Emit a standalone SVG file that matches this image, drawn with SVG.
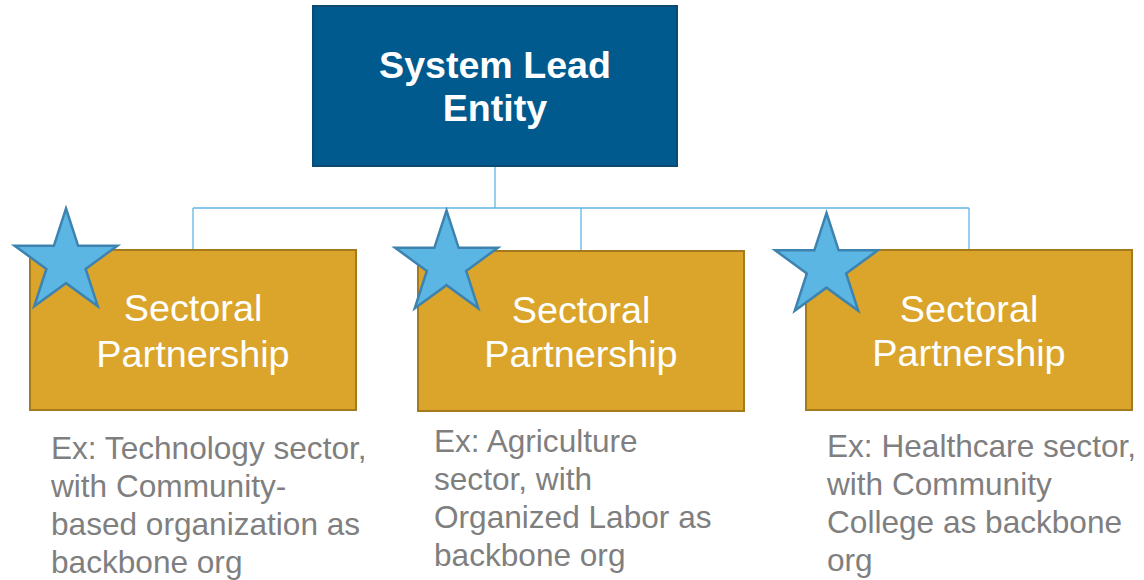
<svg xmlns="http://www.w3.org/2000/svg" width="1144" height="580" viewBox="0 0 1144 580">
<style>
.lead{fill:#005A8E;stroke:#0B4A74;stroke-width:2}
.lead-t{font-family:"Liberation Sans",Arial,sans-serif;font-weight:bold;font-size:37.6px;fill:#FFFFFF;text-anchor:middle}
.part{fill:#DAA52A;stroke:#A57A1C;stroke-width:2}
.part-t{font-family:"Liberation Sans",Arial,sans-serif;font-size:37.8px;fill:#FFFFFF;text-anchor:middle}
.desc{font-family:"Liberation Sans",Arial,sans-serif;font-size:31.6px;fill:#7F7F7F}
.conn{fill:none;stroke:#62B5E5;stroke-width:1.3}
.star{fill:#5CB6E4;stroke:#3E83AF;stroke-width:2.5;stroke-linejoin:miter}
</style>
<defs>
<path id="star" d="M0,-54 L12.13,-16.69 L51.36,-16.69 L19.62,6.37 L31.74,43.69 L0,20.63 L-31.74,43.69 L-19.62,6.37 L-51.36,-16.69 L-12.13,-16.69 Z"/>
</defs>
<g id="connectors">
<path class="conn" d="M495,166 V208 M193,208 H969 M193,208 V250 M581,208 V251 M969,208 V250"/>
</g>
<g id="lead">
<rect class="lead" x="313" y="6" width="364" height="160"/>
<text class="lead-t" x="495" y="78">System Lead</text>
<text class="lead-t" x="495" y="121">Entity</text>
</g>
<g id="partner1">
<rect class="part" x="30" y="250" width="326" height="160"/>
<text class="part-t" x="193" y="321">Sectoral</text>
<text class="part-t" x="193" y="367">Partnership</text>
<use href="#star" class="star" transform="translate(66,262.5)"/>
</g>
<g id="partner2">
<rect class="part" x="418" y="251" width="326" height="160"/>
<text class="part-t" x="581" y="323">Sectoral</text>
<text class="part-t" x="581" y="367">Partnership</text>
<use href="#star" class="star" transform="translate(446.5,264.5)"/>
</g>
<g id="partner3">
<rect class="part" x="806" y="250" width="326" height="160"/>
<text class="part-t" x="969" y="322">Sectoral</text>
<text class="part-t" x="969" y="366">Partnership</text>
<use href="#star" class="star" transform="translate(826.5,267)"/>
</g>
<g id="desc1">
<text class="desc" x="51"><tspan x="51" y="459">Ex: Technology sector,</tspan><tspan x="51" y="497">with Community-</tspan><tspan x="51" y="535">based organization as</tspan><tspan x="51" y="573">backbone org</tspan></text>
</g>
<g id="desc2">
<text class="desc" x="434"><tspan x="434" y="452">Ex: Agriculture</tspan><tspan x="434" y="490">sector, with</tspan><tspan x="434" y="528">Organized Labor as</tspan><tspan x="434" y="566">backbone org</tspan></text>
</g>
<g id="desc3">
<text class="desc" x="827"><tspan x="827" y="457">Ex: Healthcare sector,</tspan><tspan x="827" y="495">with Community</tspan><tspan x="827" y="533">College as backbone</tspan><tspan x="827" y="571">org</tspan></text>
</g>
</svg>
